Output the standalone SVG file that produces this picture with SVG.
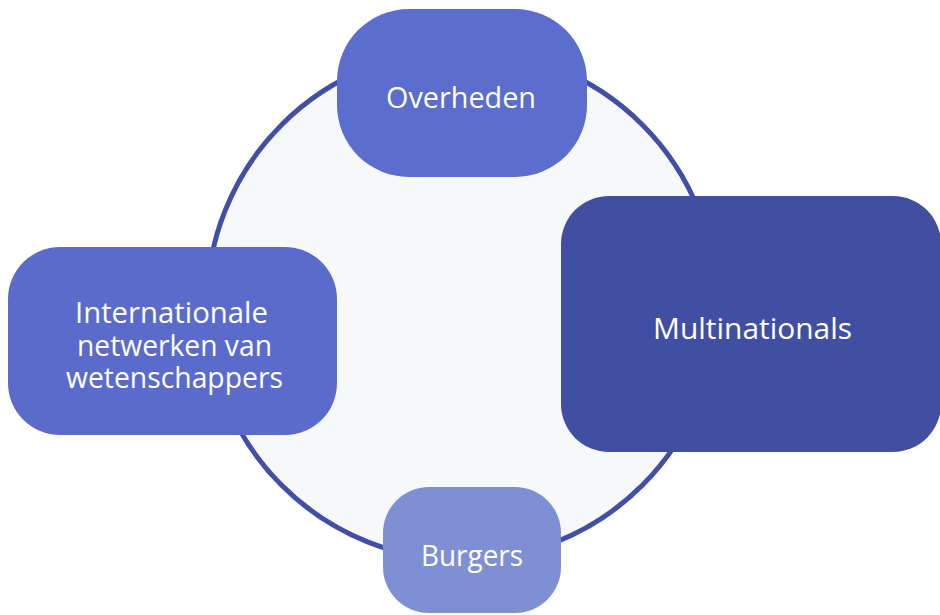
<svg xmlns="http://www.w3.org/2000/svg" width="940" height="615" viewBox="0 0 940 615">
<style>
.lbl{font-family:"Open Sans","Noto Sans","DejaVu Sans",sans-serif;font-size:29px;fill:#ffffff;text-anchor:middle}
</style>
<rect x="0" y="0" width="940" height="615" fill="#ffffff"/>
<g id="connectors">
<circle cx="462" cy="305" r="255" fill="#f6f8fa" stroke="#4150a5" stroke-width="5"/>
</g>
<g id="node-overheden">
<rect x="337" y="9" width="250" height="168" rx="72" ry="72" fill="#5b6dcd"/>
<text class="lbl" x="461" y="108" textLength="150" lengthAdjust="spacingAndGlyphs">Overheden</text>
</g>
<g id="node-internationale">
<rect x="8" y="247" width="329" height="188" rx="52" ry="52" fill="#5b6bcb"/>
<text class="lbl" x="171.5" y="323" textLength="193" lengthAdjust="spacingAndGlyphs">Internationale</text>
<text class="lbl" x="174.5" y="356" textLength="195" lengthAdjust="spacingAndGlyphs">netwerken van</text>
<text class="lbl" x="174.5" y="388" textLength="217" lengthAdjust="spacingAndGlyphs">wetenschappers</text>
</g>
<g id="node-multinationals">
<rect x="561" y="196" width="380" height="256" rx="48" ry="48" fill="#414fa3"/>
<text class="lbl" x="752.5" y="339" textLength="199" lengthAdjust="spacingAndGlyphs">Multinationals</text>
</g>
<g id="node-burgers">
<rect x="383" y="487" width="178" height="126" rx="46" ry="46" fill="#7f8fd4"/>
<text class="lbl" x="472" y="566" textLength="102" lengthAdjust="spacingAndGlyphs">Burgers</text>
</g>
</svg>
